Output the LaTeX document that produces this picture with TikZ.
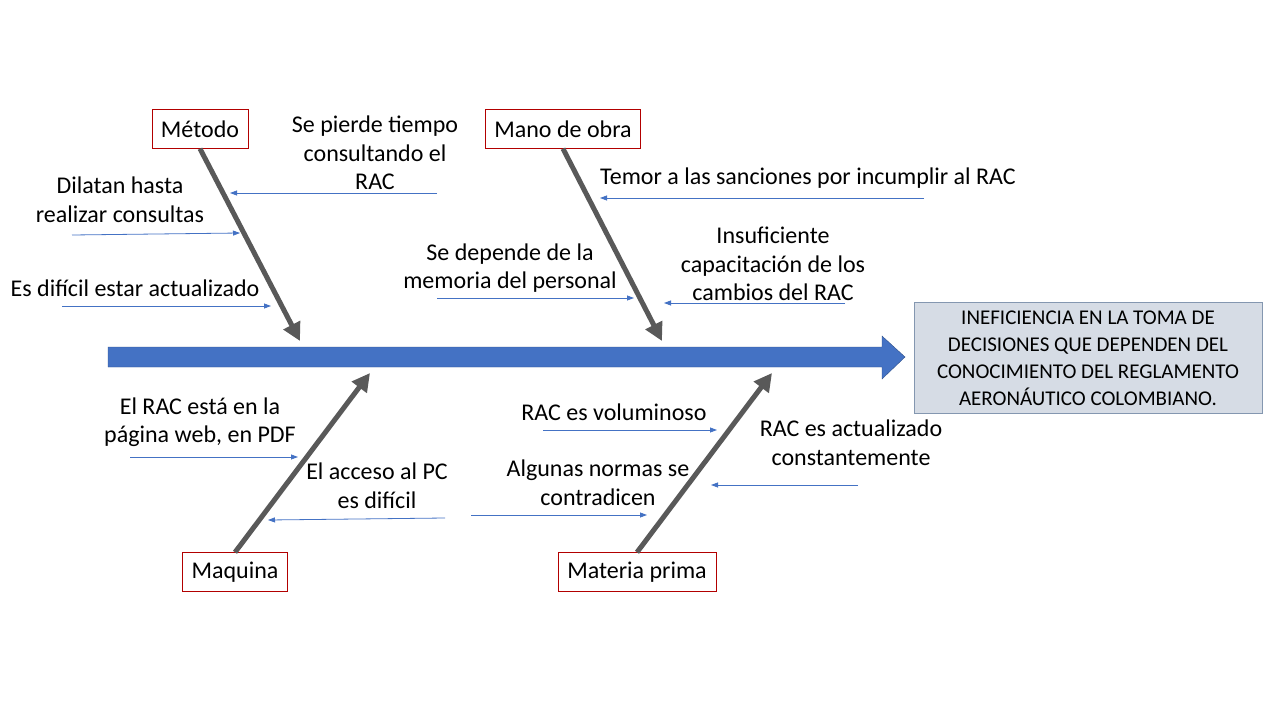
\documentclass[tikz,border=0pt]{standalone}
\usepackage{fontspec}
\setmainfont{Carlito}
\usetikzlibrary{arrows.meta}
\definecolor{spineblue}{HTML}{4472C4}
\definecolor{bonegray}{HTML}{595959}
\definecolor{effectfill}{HTML}{D6DCE5}
\definecolor{effectline}{HTML}{8497B0}
\tikzset{
  cat/.style={draw=red!70!black,fill=white,inner xsep=9pt,minimum height=39pt,font=\fontsize{24}{28}\selectfont},
  cause/.style={align=center,font=\fontsize{24}{28.5}\selectfont,inner sep=0pt},
  bone/.style={draw=bonegray,line width=5pt,-{Triangle[length=18pt,width=18pt]}},
  sub/.style={draw=spineblue,line width=0.8pt,-{Triangle[length=7pt,width=5pt]}}
}
\begin{document}
\begin{tikzpicture}[x=1pt,y=-1pt]
\useasboundingbox (0,0) rectangle (1280,720);
% Spine and effect
\fill[spineblue,draw=spineblue!70!black] (108,347) -- (882,347) -- (882,336) -- (905,357) -- (882,379) -- (882,367) -- (108,367) -- cycle;
\node[draw=effectline,fill=effectfill,minimum width=348pt,minimum height=111pt,align=center,font=\fontsize{21}{27}\selectfont] (effect) at (1088,358) {INEFICIENCIA EN LA TOMA DE\\DECISIONES QUE DEPENDEN DEL\\CONOCIMIENTO DEL REGLAMENTO\\AERONÁUTICO COLOMBIANO.};

% Categories
\node[cat] (metodo) at (200,129) {Método};
\node[cat] (mano) at (563,129) {Mano de obra};
\node[cat] (maquina) at (235,572) {Maquina};
\node[cat] (materia) at (637,572) {Materia prima};
\coordinate (metodoend) at (300,341);
\coordinate (manoend) at (662,341);
\coordinate (maquinaend) at (370,373);
\coordinate (materiaend) at (772,373);
\draw[bone] (metodo.south) -- (metodoend);
\draw[bone] (mano.south) -- (manoend);
\draw[bone] (maquina.north) -- (maquinaend);
\draw[bone] (materia.north) -- (materiaend);

% Causes
\node[cause] (pierde) at (375,153) {Se pierde tiempo\\consultando el\\RAC};
\node[cause] (dilatan) at (120,200) {Dilatan hasta\\realizar consultas};
\node[cause] (dificil) at (135,288) {Es difícil estar actualizado};
\node[cause] (temor) at (808,178) {Temor a las sanciones por incumplir al RAC};
\node[cause] (memoria) at (510,268) {Se depende de la\\memoria del personal};
\node[cause] (capacit) at (773,264) {Insuficiente\\capacitación de los\\cambios del RAC};
\node[cause] (web) at (200,422) {El RAC está en la\\página web, en PDF};
\node[cause] (acceso) at (377,486) {El acceso al PC\\es difícil};
\node[cause] (volum) at (614,412) {RAC es voluminoso};
\node[cause] (normas) at (598,483) {Algunas normas se\\contradicen};
\node[cause] (actual) at (851,443) {RAC es actualizado\\constantemente};

% Cause arrows
\coordinate (a1s) at (437,193); \coordinate (a1e) at (230,193);
\coordinate (a2s) at (72,235);  \coordinate (a2e) at (240,233);
\coordinate (a3s) at (62,306);  \coordinate (a3e) at (271,306);
\coordinate (a4s) at (924,198); \coordinate (a4e) at (600,198);
\coordinate (a5s) at (437,298); \coordinate (a5e) at (634,298);
\coordinate (a6s) at (845,303); \coordinate (a6e) at (664,303);
\coordinate (a7s) at (130,457); \coordinate (a7e) at (298,457);
\coordinate (a8s) at (445,518); \coordinate (a8e) at (268,520);
\coordinate (a9s) at (543,430); \coordinate (a9e) at (717,430);
\coordinate (a10s) at (471,515); \coordinate (a10e) at (647,515);
\coordinate (a11s) at (858,485); \coordinate (a11e) at (711,485);
\foreach \i in {1,...,11} \draw[sub] (a\i s) -- (a\i e);
\end{tikzpicture}
\end{document}
